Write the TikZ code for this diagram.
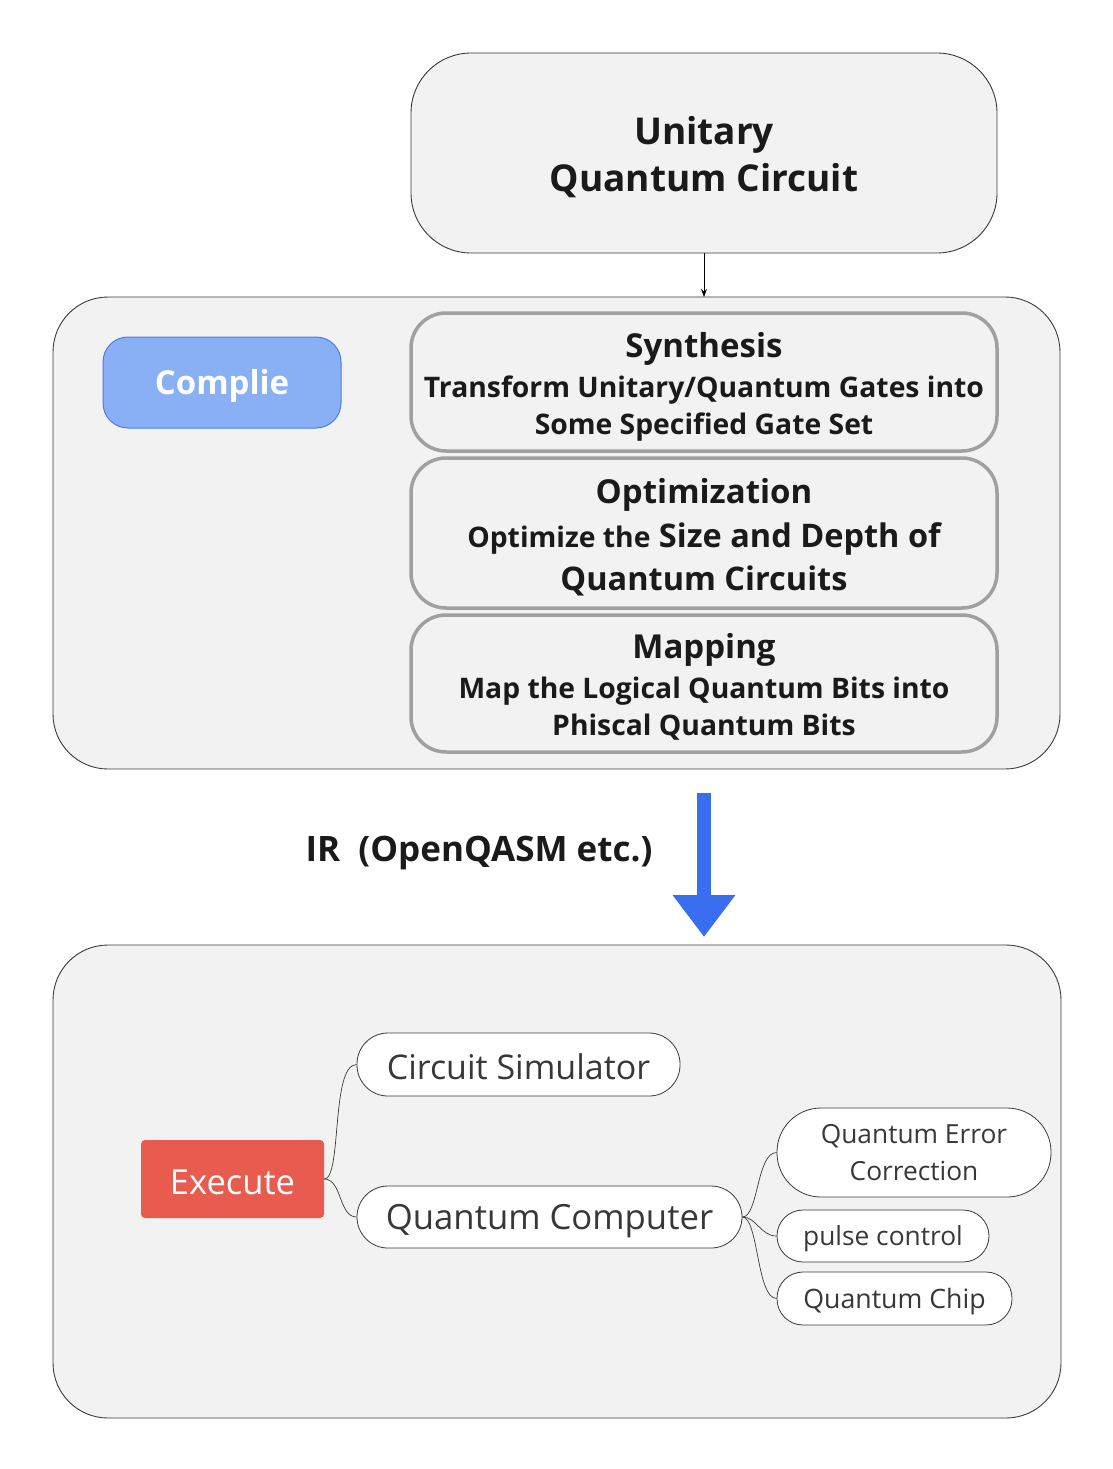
\documentclass[tikz,border=0pt]{standalone}
\usepackage{fontspec}
\setmainfont{Open Sans}
\usetikzlibrary{arrows.meta}
\definecolor{panel}{HTML}{F2F2F2}
\definecolor{edge}{HTML}{3A3A3A}
\definecolor{stepgray}{HTML}{A0A0A0}
\definecolor{btnfill}{HTML}{89AFF5}
\definecolor{btnedge}{HTML}{4A7CF0}
\definecolor{arrowblue}{HTML}{3A6EF0}
\definecolor{execred}{HTML}{E85C50}
\definecolor{txt}{HTML}{1A1A1A}
\definecolor{lighttxt}{HTML}{383838}
\newcommand{\dn}[2]{\raisebox{-#1}[\height][\depth]{#2}}
\tikzset{
  panelbox/.style={draw=edge, line width=0.9pt, fill=panel, rounded corners=55pt},
  stepbox/.style={draw=stepgray, line width=3.5pt, fill=panel, rounded corners=35pt},
  leaf/.style={draw=edge, line width=0.8pt, fill=white},
  conn/.style={draw=edge, line width=0.7pt},
}
\begin{document}
\begin{tikzpicture}[x=1pt,y=-1pt]
\useasboundingbox (0,0) rectangle (1113,1469);
% top box
\draw[panelbox, rounded corners=60pt] (411,53) rectangle (997,253);
\node[font=\bfseries\fontsize{37}{47}\selectfont, text=txt, align=center] (uqc) at (704,157) {Unitary\\Quantum Circuit};
\coordinate (uqcb) at (704,253);
% compile panel
\draw[panelbox] (53,297) rectangle (1060,769);
\coordinate (cpt) at (704,297);
\draw[-{Stealth[length=8pt,width=6pt]}, line width=0.8pt, black] (uqcb) -- (cpt);
% complie button
\node[draw=btnedge, line width=1pt, fill=btnfill, rounded corners=25pt, minimum width=238pt, minimum height=91pt, text=white, font=\bfseries\fontsize{33}{38}\selectfont] (complie) at (222,382.5) {\dn{3pt}{Complie}};
% steps
\draw[stepbox] (411,313) rectangle (997,451);
\draw[stepbox] (411,458) rectangle (997,608);
\draw[stepbox] (411,615) rectangle (997,752);
\node[font=\bfseries\fontsize{33}{40}\selectfont, text=txt] (syn) at (704,349) {Synthesis};
\node[font=\bfseries\fontsize{28.3}{37}\selectfont, text=txt, align=center] (syntxt) at (704,408.5) {Transform Unitary/Quantum Gates into\\Some Specified Gate Set};
\node[font=\bfseries\fontsize{33}{40}\selectfont, text=txt] (opt) at (704,495) {Optimization};
\node[font=\bfseries\fontsize{32.5}{43}\selectfont, text=txt, align=center] (opttxt) at (704,559) {{\fontsize{28.3}{43}\selectfont Optimize the} Size and Depth of\\Quantum Circuits};
\node[font=\bfseries\fontsize{33}{40}\selectfont, text=txt] (map) at (704,650) {Mapping};
\node[font=\bfseries\fontsize{28.3}{37}\selectfont, text=txt, align=center] (maptxt) at (704,708.5) {Map the Logical Quantum Bits into\\Phiscal Quantum Bits};
% IR arrow
\node[font=\bfseries\fontsize{35}{40}\selectfont, text=txt] (ir) at (479,853) {IR\ \ (OpenQASM etc.)};
\coordinate (bluetop) at (704,793);
\coordinate (bluebot) at (704,937);
\draw[arrowblue, line width=14pt, -{Triangle[length=42pt,width=60pt]}] (bluetop) -- (bluebot);
% execute panel
\draw[panelbox] (53,945) rectangle (1061,1418);
\node[fill=execred, rounded corners=4pt, minimum width=183pt, minimum height=78pt, text=white, font=\fontsize{34.5}{40}\selectfont] (exec) at (232.5,1179) {\dn{3pt}{Execute}};
\node[leaf, rounded corners=31pt, minimum width=323pt, minimum height=63pt, text=lighttxt, font=\fontsize{34}{40}\selectfont] (sim) at (518.5,1064.5) {\dn{2pt}{Circuit Simulator}};
\node[leaf, rounded corners=31pt, minimum width=385pt, minimum height=62pt, text=lighttxt, font=\fontsize{34.7}{40}\selectfont] (qc) at (549.5,1217) {\dn{4pt}{Quantum Computer}};
\node[leaf, rounded corners=44pt, minimum width=274pt, minimum height=89pt, text=lighttxt, align=center, font=\fontsize{26.3}{37}\selectfont] (qec) at (914,1152.5) {Quantum Error\\Correction};
\node[leaf, rounded corners=26pt, minimum width=212pt, minimum height=52pt, text=lighttxt, font=\fontsize{26.3}{32}\selectfont] (pulse) at (883,1236) {\dn{3pt}{pulse control}};
\node[leaf, rounded corners=26pt, minimum width=235pt, minimum height=53pt, text=lighttxt, font=\fontsize{26.7}{32}\selectfont] (chip) at (894.5,1298.5) {\dn{3pt}{Quantum Chip}};
% connectors
\draw[conn] (exec.east) .. controls +(18,0) and +(-26,0) .. (sim.west);
\draw[conn] (exec.east) .. controls +(18,0) and +(-18,0) .. (qc.west);
\draw[conn] (qc.east) .. controls +(16,0) and +(-20,0) .. (qec.west);
\draw[conn] (qc.east) .. controls +(14,0) and +(-16,0) .. (pulse.west);
\draw[conn] (qc.east) .. controls +(16,0) and +(-20,0) .. (chip.west);
\end{tikzpicture}
\end{document}
